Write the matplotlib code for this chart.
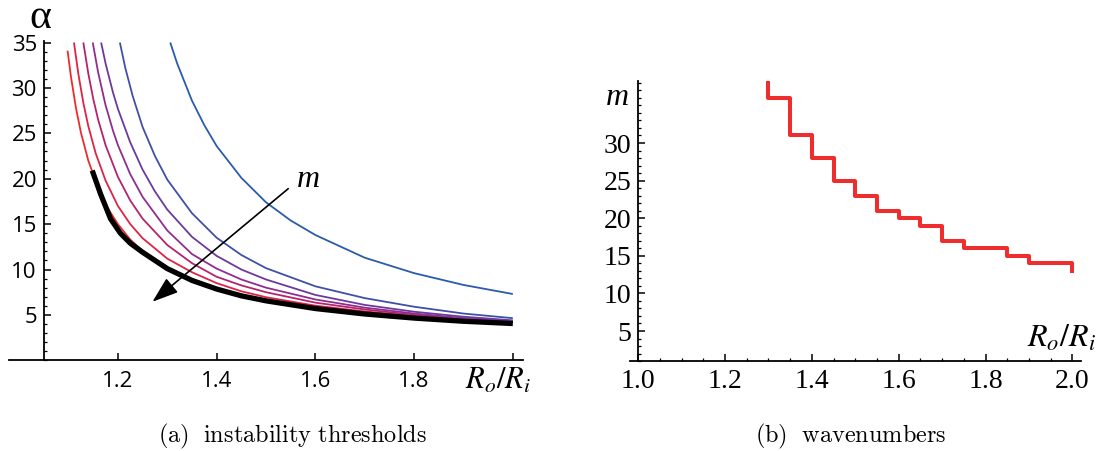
import matplotlib
matplotlib.use("Agg")
import matplotlib.pyplot as plt
from matplotlib.ticker import MultipleLocator, FixedLocator

# ---------------- data: panel (a) instability thresholds ----------------
x_red = [1.098, 1.105, 1.115, 1.125, 1.14, 1.16, 1.18, 1.2, 1.225, 1.25, 1.3, 1.35, 1.4, 1.45, 1.5, 1.6, 1.7, 1.8, 1.9, 2.0]
a_red = [34.1, 31.2, 27.8, 25.1, 22.0, 19.0, 16.7, 15.0, 13.3, 12.05, 10.2, 8.9, 7.95, 7.23, 6.67, 5.83, 5.25, 4.81, 4.48, 4.21]

x_crimson = [1.111, 1.12, 1.13, 1.14, 1.155, 1.175, 1.2, 1.225, 1.25, 1.3, 1.35, 1.4, 1.45, 1.5, 1.6, 1.7, 1.8, 1.9, 2.0]
a_crimson = [35.0, 31.5, 28.35, 25.8, 22.8, 19.8, 17.0, 15.0, 13.45, 11.2, 9.7, 8.5, 7.6, 6.95, 6.02, 5.38, 4.9, 4.53, 4.24]

x_magenta = [1.13, 1.14, 1.15, 1.16, 1.175, 1.2, 1.225, 1.25, 1.3, 1.35, 1.4, 1.45, 1.5, 1.6, 1.7, 1.8, 1.9, 2.0]
a_magenta = [35.0, 31.6, 28.8, 26.5, 23.7, 20.2, 17.6, 15.6, 12.7, 10.7, 9.2, 8.25, 7.5, 6.35, 5.6, 5.0, 4.6, 4.27]

x_purple = [1.149, 1.16, 1.175, 1.19, 1.2, 1.225, 1.25, 1.3, 1.35, 1.4, 1.45, 1.5, 1.6, 1.7, 1.8, 1.9, 2.0]
a_purple = [35.0, 31.7, 28.1, 25.3, 23.7, 20.5, 18.0, 14.3, 11.7, 10.1, 8.9, 8.0, 6.7, 5.8, 5.15, 4.65, 4.3]

x_violet = [1.166, 1.175, 1.19, 1.2, 1.225, 1.25, 1.275, 1.3, 1.35, 1.4, 1.45, 1.5, 1.6, 1.7, 1.8, 1.9, 2.0]
a_violet = [35.0, 32.7, 29.5, 27.7, 24.0, 21.0, 18.6, 16.6, 13.6, 11.5, 10.0, 8.9, 7.2, 6.1, 5.35, 4.8, 4.4]

x_blue2 = [1.204, 1.215, 1.23, 1.25, 1.275, 1.3, 1.35, 1.4, 1.45, 1.5, 1.6, 1.7, 1.8, 1.9, 2.0]
a_blue2 = [35.0, 32.2, 29.1, 25.7, 22.5, 19.9, 16.2, 13.5, 11.6, 10.15, 8.15, 6.85, 5.9, 5.15, 4.64]

x_blue1 = [1.306, 1.32, 1.35, 1.375, 1.4, 1.45, 1.5, 1.55, 1.6, 1.7, 1.8, 1.9, 2.0]
a_blue1 = [35.0, 32.7, 28.6, 25.9, 23.6, 20.1, 17.4, 15.4, 13.8, 11.3, 9.6, 8.3, 7.3]

x_env = [1.148, 1.165, 1.185, 1.205, 1.225, 1.25, 1.3, 1.35, 1.4, 1.45, 1.5, 1.6, 1.7, 1.8, 1.9, 2.0]
a_env = [20.9, 18.3, 15.6, 14.0, 12.9, 11.9, 10.1, 8.8, 7.85, 7.1, 6.55, 5.7, 5.1, 4.65, 4.3, 4.05]

curve_colors = ['#ee2b2b', '#dc2446', '#b5236e', '#8f2e8f', '#6b3a9c', '#3f50a6', '#2a5caa']

# ---------------- data: panel (b) wavenumbers ----------------
step_x = [1.30, 1.30, 1.35, 1.40, 1.45, 1.50, 1.55, 1.60, 1.65, 1.70, 1.75, 1.80, 1.85, 1.90, 1.95, 2.00, 2.00]
step_m = [38, 36, 31, 28, 25, 23, 21, 20, 19, 17, 16, 16, 15, 14, 14, 14, 13]

left_yticks = [5, 10, 15, 20, 25, 30, 35]
left_xticks = [1.2, 1.4, 1.6, 1.8]
right_yticks = [5, 10, 15, 20, 25, 30]
right_xticks = [1.0, 1.2, 1.4, 1.6, 1.8, 2.0]

W, H = 1106, 451
fig = plt.figure(figsize=(W / 100, H / 100), dpi=100)

def px_rect(x0, y_top, x1, y_bot):
    return [x0 / W, 1 - y_bot / H, (x1 - x0) / W, (y_bot - y_top) / H]

sans = ['Open Sans', 'DejaVu Sans']
serif = ['Liberation Serif', 'DejaVu Serif']

# ---------------- panel (a) ----------------
ax = fig.add_axes(px_rect(9.3, 40.7, 522.7, 360.3))
ax.set_xlim(0.98, 2.02)
ax.set_ylim(0, 35.2)
series = [(x_red, a_red), (x_crimson, a_crimson), (x_magenta, a_magenta), (x_purple, a_purple),
          (x_violet, a_violet), (x_blue2, a_blue2), (x_blue1, a_blue1)]
for (xs, ys), c in zip(series, curve_colors):
    ax.plot(xs, ys, color=c, lw=1.3, solid_capstyle='butt')
ax.plot(x_env, a_env, color='black', lw=3.8, solid_capstyle='butt')

ax.annotate('', xy=(1.27, 6.45), xytext=(1.545, 18.9),
            arrowprops=dict(arrowstyle='-|>,head_length=0.8,head_width=0.28', lw=1.2, color='black',
                            mutation_scale=20, shrinkA=0, shrinkB=0))
ax.text(1.585, 19.9, 'm', fontsize=23, fontstyle='italic', family=serif, ha='center', va='center')

for s in ['top', 'right']:
    ax.spines[s].set_visible(False)
ax.spines['left'].set_position(('data', 1.05))
ax.spines['bottom'].set_position(('data', 0))
for s in ['left', 'bottom']:
    ax.spines[s].set_linewidth(1.3)
ax.yaxis.set_major_locator(FixedLocator(left_yticks))
ax.yaxis.set_minor_locator(MultipleLocator(1))
ax.xaxis.set_major_locator(FixedLocator(left_xticks + [2.0]))
ax.set_yticklabels([str(v) for v in left_yticks])
ax.set_xticklabels([f'{v:.1f}' for v in left_xticks] + [''])
ax.tick_params(axis='both', which='major', direction='in', length=5, width=1.1, labelsize=16, pad=5)
ax.tick_params(axis='y', which='minor', direction='in', length=2.5, width=0.9)
ax.tick_params(axis='x', which='major', pad=8)
for lab in ax.get_xticklabels() + ax.get_yticklabels():
    lab.set_family(sans)

# ---------------- panel (b) ----------------
bx = fig.add_axes(px_rect(629.6, 80.6, 1081.0, 361.1))
bx.set_xlim(0.98, 2.02)
bx.set_ylim(1, 38.3)
bx.plot(step_x, step_m, drawstyle='steps-post', color='#ee2e2e', lw=2.9)
for s in ['top', 'right']:
    bx.spines[s].set_visible(False)
bx.spines['left'].set_position(('data', 1.0))
for s in ['left', 'bottom']:
    bx.spines[s].set_linewidth(1.3)
bx.yaxis.set_major_locator(FixedLocator(right_yticks))
bx.yaxis.set_minor_locator(MultipleLocator(1))
bx.xaxis.set_major_locator(FixedLocator(right_xticks))
bx.xaxis.set_minor_locator(MultipleLocator(0.05))
bx.set_yticklabels([str(v) for v in right_yticks])
bx.set_xticklabels([f'{v:.1f}' for v in right_xticks])
bx.tick_params(axis='both', which='major', direction='in', length=5, width=1.1, labelsize=20, pad=5)
bx.tick_params(axis='both', which='minor', direction='in', length=2.5, width=0.9)
bx.tick_params(axis='x', which='major', pad=6)
for lab in bx.get_xticklabels() + bx.get_yticklabels():
    lab.set_family(serif)
bx.text(0.952, 36.0, 'm', fontsize=23, fontstyle='italic', family=serif, ha='center', va='center')

# ---------------- axis labels and captions ----------------
def ftext(xp, yp, s, **kw):
    fig.text(xp / W, 1 - yp / H, s, **kw)

ftext(40, 18, 'α', fontsize=30, family=serif, ha='center', va='center')
ftext(498, 380, r'$R_o/R_i$', fontsize=22, math_fontfamily='stix', ha='center', va='center')
ftext(1061, 338, r'$R_o/R_i$', fontsize=23, math_fontfamily='stix', ha='center', va='center')
ftext(292, 436, r'$\mathrm{(a)\ \ instability\ thresholds}$', fontsize=17.5, math_fontfamily='cm',
      ha='center', va='center')
ftext(851, 436, r'$\mathrm{(b)\ \ wavenumbers}$', fontsize=17.5, math_fontfamily='cm',
      ha='center', va='center')

fig.savefig('out.png', dpi=100)
